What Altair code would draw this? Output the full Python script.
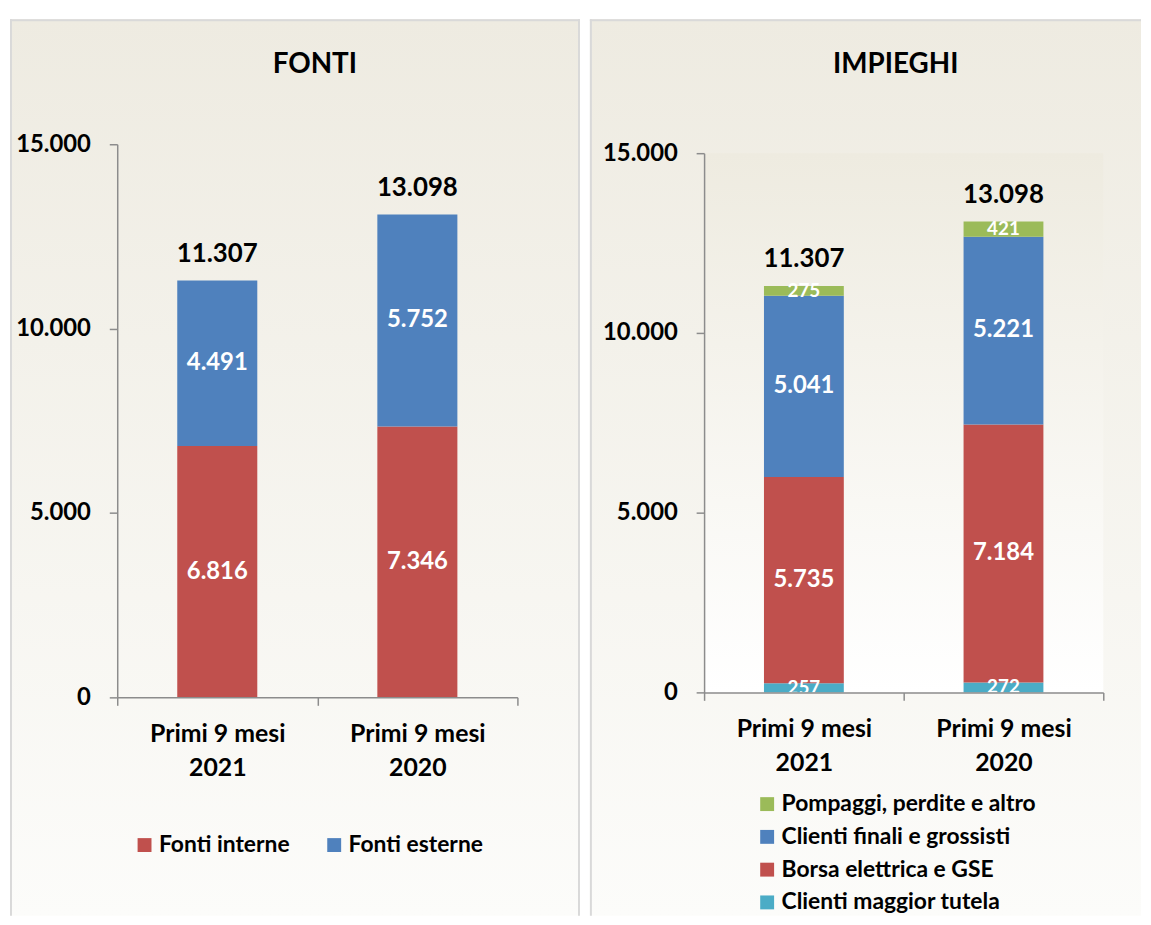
import altair as alt
import pandas as pd

# ---------------- data ----------------
periods = ["Primi 9 mesi\n2021", "Primi 9 mesi\n2020"]

fonti_series = ["Fonti interne", "Fonti esterne"]
fonti_interne = [6816, 7346]
fonti_esterne = [4491, 5752]
fonti_totals = [11307, 13098]

impieghi_series = ["Clienti maggior tutela", "Borsa elettrica e GSE",
                   "Clienti finali e grossisti", "Pompaggi, perdite e altro"]
clienti_tutela = [257, 272]
borsa_gse = [5735, 7184]
clienti_finali = [5041, 5221]
pompaggi = [275, 421]
impieghi_totals = [11307, 13098]

fonti_colors = ["#C0504D", "#4F81BD"]
impieghi_colors = ["#4BACC6", "#C0504D", "#4F81BD", "#9BBB59"]

FONT = "Lato"


def long_df(series_names, series_values):
    rows = []
    for k, (name, vals) in enumerate(zip(series_names, series_values)):
        for p, v in zip(periods, vals):
            rows.append({"period": p, "series": name, "value": v, "ord": k})
    return pd.DataFrame(rows)


fonti_df = long_df(fonti_series, [fonti_interne, fonti_esterne])
fonti_tot_df = pd.DataFrame({"period": periods, "total": fonti_totals})
imp_df = long_df(impieghi_series, [clienti_tutela, borsa_gse, clienti_finali, pompaggi])
imp_tot_df = pd.DataFrame({"period": periods, "total": impieghi_totals})

one = pd.DataFrame({"k": [0]})
FMT = "replace(format(datum.{f}, ','), ',', '.')"


def grad(c0, c1):
    return alt.Gradient(gradient="linear",
                        stops=[alt.GradientStop(color=c0, offset=0),
                               alt.GradientStop(color=c1, offset=1)],
                        x1=0, x2=0, y1=0, y2=1)


def panel(df, tot_df, legend_domain, legend_colors, W, H, yrange,
          title, title_x, box, plot_bg, borders, legend):
    xenc = alt.X("period:N", sort=periods,
                 scale=alt.Scale(paddingInner=0, paddingOuter=0),
                 axis=alt.Axis(title=None, labelAngle=0, tickBand="extent", zindex=1,
                               labelExpr="split(datum.label, '\\n')",
                               labelFont=FONT, labelFontWeight="bold", labelFontSize=25,
                               labelColor="black", labelLineHeight=35,
                               labelBaseline="top", labelPadding=16,
                               domainColor="#8C8C8C", domainWidth=1.5,
                               tickColor="#8C8C8C", tickWidth=1.5, tickSize=8))
    yscale = dict(domain=[0, 15000], nice=False)
    if yrange is not None:
        yscale["range"] = yrange
    yaxis = alt.Axis(title=None, values=[0, 5000, 10000, 15000], grid=False, zindex=1,
                     labelExpr=FMT.format(f="value"),
                     labelFont=FONT, labelFontWeight="bold", labelFontSize=24,
                     labelColor="black", labelPadding=19,
                     domainColor="#8C8C8C", domainWidth=1.5,
                     tickColor="#8C8C8C", tickWidth=1.5, tickSize=8)

    x0, x1, y0, y1 = box
    layers = []
    layers.append(alt.Chart(one).mark_rect(fill=grad("#EEEBE1", "#FCFCFA")).encode(
        x=alt.value(x0), x2=alt.value(x1), y=alt.value(y0), y2=alt.value(y1)))
    if plot_bg:
        layers.append(alt.Chart(one).mark_rect(fill=grad("#EEEBE0", "#FFFFFF")).encode(
            x=alt.value(0), x2=alt.value(W), y=alt.value(yrange[1]), y2=alt.value(yrange[0])))
    for b in borders:
        if b == "left":
            enc = dict(x=alt.value(x0 + 1), y=alt.value(y0), y2=alt.value(y1))
        elif b == "right":
            enc = dict(x=alt.value(x1 - 1), y=alt.value(y0), y2=alt.value(y1))
        else:
            enc = dict(x=alt.value(x0), x2=alt.value(x1), y=alt.value(y0 + 1))
        layers.append(alt.Chart(one).mark_rule(color="#D9D9D9", strokeWidth=2).encode(**enc))

    layers.append(alt.Chart(one).mark_text(text=title, font=FONT, fontWeight="bold",
                                           fontSize=28, color="black", baseline="middle").encode(
        x=alt.value(title_x), y=alt.value(-80)))

    bars = alt.Chart(df).mark_bar(width=alt.RelativeBandSize(0.4)).encode(
        x=xenc,
        y=alt.Y("value:Q", stack="zero", scale=alt.Scale(**yscale), axis=yaxis),
        color=alt.Color("series:N",
                        scale=alt.Scale(domain=legend_domain, range=legend_colors),
                        legend=legend),
        order=alt.Order("ord:Q", sort="ascending"),
    )
    layers.append(bars)

    seg = alt.Chart(df).transform_stack(
        stack="value", groupby=["period"], as_=["v0", "v1"],
        sort=[alt.SortField("ord", order="ascending")]
    ).transform_calculate(
        mid="(datum.v0 + datum.v1) / 2", label=FMT.format(f="value")
    ).mark_text(font=FONT, fontWeight="bold", color="white", baseline="middle",
                clip=True).encode(
        x=alt.X("period:N", sort=periods),
        y=alt.Y("mid:Q"),
        text="label:N",
        size=alt.condition(alt.datum.value < 1000, alt.value(19), alt.value(24)),
    )
    layers.append(seg)

    tot = alt.Chart(tot_df).transform_calculate(label=FMT.format(f="total")).mark_text(
        font=FONT, fontWeight="bold", fontSize=26, color="black",
        baseline="middle", dy=-27).encode(
        x=alt.X("period:N", sort=periods),
        y=alt.Y("total:Q"),
        text="label:N",
    )
    layers.append(tot)

    return alt.layer(*layers).properties(width=W, height=H)


W1, H1 = 403, 557
left = panel(
    fonti_df, fonti_tot_df, fonti_series, fonti_colors,
    W1, H1, None, "FONTI", 199, (-108, W1 + 63, -126, 777), False,
    ["left", "top", "right"],
    alt.Legend(orient="none", legendX=16, legendY=694, direction="horizontal",
               title=None, symbolType="square", symbolSize=196, symbolStrokeWidth=0,
               labelFont=FONT, labelFontWeight="bold", labelFontSize=23, labelLimit=400,
               labelColor="black", labelOffset=3, columnPadding=33, padding=0),
)

W2, H2 = 402, 552
imp_legend_order = list(reversed(impieghi_series))
imp_legend_colors = list(reversed(impieghi_colors))
right = panel(
    imp_df, imp_tot_df, imp_legend_order, imp_legend_colors,
    W2, H2, [552, 9], "IMPIEGHI", 193, (-115, W2 + 38, -126, 777), True,
    ["left", "top"],
    alt.Legend(orient="none", legendX=52, legendY=653, direction="vertical",
               title=None, symbolType="square", symbolSize=196, symbolStrokeWidth=0,
               labelFont=FONT, labelFontWeight="bold", labelFontSize=23, labelLimit=400,
               labelColor="black", labelOffset=3, rowPadding=9, padding=0),
)

chart = alt.hconcat(left, right, spacing=6).resolve_scale(
    color="independent", x="independent", y="independent"
).properties(
    padding={"left": 0, "top": 6, "right": 0, "bottom": 0}
).configure_view(stroke=None).configure(font=FONT)

chart.save("out.html", embed_options={"renderer": "svg", "actions": False})
